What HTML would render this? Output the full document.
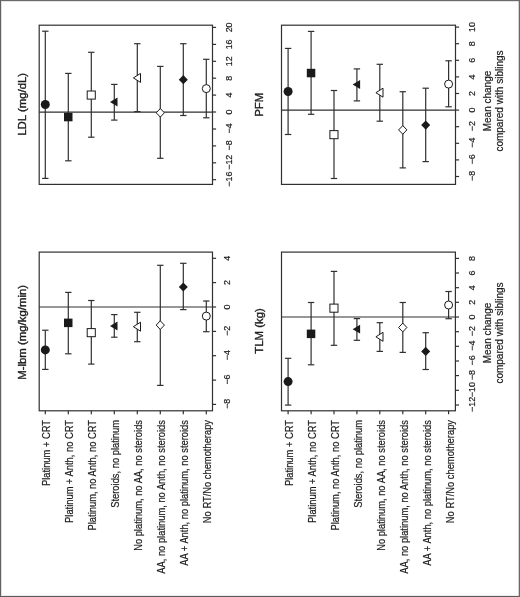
<!DOCTYPE html>
<html><head><meta charset="utf-8"><title>Figure</title>
<style>
html,body{margin:0;padding:0;background:#fff;}
body{width:520px;height:597px;overflow:hidden;position:relative;}
svg{display:block;position:absolute;left:0;top:0;}
text{font-family:"Liberation Sans", Arial, Helvetica, sans-serif;fill:#1a1a1a;stroke:#1a1a1a;stroke-width:0.2px;}
</style></head><body>
<svg width="520" height="597" viewBox="0 0 520 597">
<rect x="0" y="0" width="520" height="597" fill="#fff"/>
<rect x="39.2" y="25.2" width="173.3" height="159.2" fill="none" stroke="#303030" stroke-width="1.2"/>
<line x1="39.2" y1="112.05" x2="212.5" y2="112.05" stroke="#303030" stroke-width="1.2"/>
<line x1="212.5" y1="27.4" x2="216.1" y2="27.4" stroke="#303030" stroke-width="1.2"/>
<text x="231.7" y="27.4" transform="rotate(-90 231.7 27.4)" text-anchor="middle" font-size="8.9">20</text>
<line x1="212.5" y1="44.4" x2="216.1" y2="44.4" stroke="#303030" stroke-width="1.2"/>
<text x="231.7" y="44.4" transform="rotate(-90 231.7 44.4)" text-anchor="middle" font-size="8.9">16</text>
<line x1="212.5" y1="61.3" x2="216.1" y2="61.3" stroke="#303030" stroke-width="1.2"/>
<text x="231.7" y="61.3" transform="rotate(-90 231.7 61.3)" text-anchor="middle" font-size="8.9">12</text>
<line x1="212.5" y1="78.2" x2="216.1" y2="78.2" stroke="#303030" stroke-width="1.2"/>
<text x="231.7" y="78.2" transform="rotate(-90 231.7 78.2)" text-anchor="middle" font-size="8.9">8</text>
<line x1="212.5" y1="95.1" x2="216.1" y2="95.1" stroke="#303030" stroke-width="1.2"/>
<text x="231.7" y="95.1" transform="rotate(-90 231.7 95.1)" text-anchor="middle" font-size="8.9">4</text>
<line x1="212.5" y1="112.0" x2="216.1" y2="112.0" stroke="#303030" stroke-width="1.2"/>
<text x="231.7" y="112.0" transform="rotate(-90 231.7 112.0)" text-anchor="middle" font-size="8.9">0</text>
<line x1="212.5" y1="129.0" x2="216.1" y2="129.0" stroke="#303030" stroke-width="1.2"/>
<text x="231.7" y="128.4" transform="rotate(-90 231.7 128.4)" text-anchor="middle" font-size="8.9">−4</text>
<line x1="212.5" y1="145.9" x2="216.1" y2="145.9" stroke="#303030" stroke-width="1.2"/>
<text x="231.7" y="145.3" transform="rotate(-90 231.7 145.3)" text-anchor="middle" font-size="8.9">−8</text>
<line x1="212.5" y1="162.8" x2="216.1" y2="162.8" stroke="#303030" stroke-width="1.2"/>
<text x="231.7" y="162.2" transform="rotate(-90 231.7 162.2)" text-anchor="middle" font-size="8.9">−12</text>
<line x1="212.5" y1="179.7" x2="216.1" y2="179.7" stroke="#303030" stroke-width="1.2"/>
<text x="231.7" y="179.1" transform="rotate(-90 231.7 179.1)" text-anchor="middle" font-size="8.9">−16</text>
<line x1="45.3" y1="31.2" x2="45.3" y2="178.4" stroke="#303030" stroke-width="1.2"/>
<line x1="42.1" y1="31.2" x2="48.5" y2="31.2" stroke="#303030" stroke-width="1.2"/>
<line x1="42.1" y1="178.4" x2="48.5" y2="178.4" stroke="#303030" stroke-width="1.2"/>
<circle cx="45.3" cy="104.5" r="4.5" fill="#1a1a1a"/>
<line x1="68.3" y1="73.4" x2="68.3" y2="160.8" stroke="#303030" stroke-width="1.2"/>
<line x1="65.1" y1="73.4" x2="71.5" y2="73.4" stroke="#303030" stroke-width="1.2"/>
<line x1="65.1" y1="160.8" x2="71.5" y2="160.8" stroke="#303030" stroke-width="1.2"/>
<rect x="64.0" y="112.8" width="8.5" height="8.5" fill="#1a1a1a"/>
<line x1="91.3" y1="52.3" x2="91.3" y2="137.2" stroke="#303030" stroke-width="1.2"/>
<line x1="88.1" y1="52.3" x2="94.5" y2="52.3" stroke="#303030" stroke-width="1.2"/>
<line x1="88.1" y1="137.2" x2="94.5" y2="137.2" stroke="#303030" stroke-width="1.2"/>
<rect x="87.2" y="91.0" width="8.1" height="8.1" fill="#fff" stroke="#1a1a1a" stroke-width="1"/>
<line x1="114.3" y1="84.4" x2="114.3" y2="120.1" stroke="#303030" stroke-width="1.2"/>
<line x1="111.1" y1="84.4" x2="117.5" y2="84.4" stroke="#303030" stroke-width="1.2"/>
<line x1="111.1" y1="120.1" x2="117.5" y2="120.1" stroke="#303030" stroke-width="1.2"/>
<polygon points="110.0,102.0 117.5,97.6 117.5,106.4" fill="#1a1a1a"/>
<line x1="137.3" y1="43.7" x2="137.3" y2="111.6" stroke="#303030" stroke-width="1.2"/>
<line x1="134.1" y1="43.7" x2="140.5" y2="43.7" stroke="#303030" stroke-width="1.2"/>
<line x1="134.1" y1="111.6" x2="140.5" y2="111.6" stroke="#303030" stroke-width="1.2"/>
<polygon points="133.4,77.9 140.5,73.4 140.5,82.4" fill="#fff" stroke="#1a1a1a" stroke-width="1"/>
<line x1="160.3" y1="66.4" x2="160.3" y2="158.3" stroke="#303030" stroke-width="1.2"/>
<line x1="157.1" y1="66.4" x2="163.5" y2="66.4" stroke="#303030" stroke-width="1.2"/>
<line x1="157.1" y1="158.3" x2="163.5" y2="158.3" stroke="#303030" stroke-width="1.2"/>
<polygon points="156.2,112.8 160.3,108.5 164.4,112.8 160.3,117.1" fill="#fff" stroke="#1a1a1a" stroke-width="1"/>
<line x1="183.3" y1="43.7" x2="183.3" y2="115.5" stroke="#303030" stroke-width="1.2"/>
<line x1="180.1" y1="43.7" x2="186.5" y2="43.7" stroke="#303030" stroke-width="1.2"/>
<line x1="180.1" y1="115.5" x2="186.5" y2="115.5" stroke="#303030" stroke-width="1.2"/>
<polygon points="178.8,79.7 183.3,75.1 187.8,79.7 183.3,84.3" fill="#1a1a1a"/>
<line x1="206.3" y1="59.3" x2="206.3" y2="117.8" stroke="#303030" stroke-width="1.2"/>
<line x1="203.1" y1="59.3" x2="209.5" y2="59.3" stroke="#303030" stroke-width="1.2"/>
<line x1="203.1" y1="117.8" x2="209.5" y2="117.8" stroke="#303030" stroke-width="1.2"/>
<circle cx="206.3" cy="88.6" r="4.0" fill="#fff" stroke="#1a1a1a" stroke-width="1"/>
<text x="25.6" y="104.3" transform="rotate(-90 25.6 104.3)" text-anchor="middle" font-size="11.4" style="stroke-width:0.35px">LDL (mg/dL)</text>
<rect x="281.5" y="25.2" width="174.0" height="159.2" fill="none" stroke="#303030" stroke-width="1.2"/>
<line x1="281.5" y1="110.1" x2="455.5" y2="110.1" stroke="#303030" stroke-width="1.2"/>
<line x1="455.5" y1="27.1" x2="459.1" y2="27.1" stroke="#303030" stroke-width="1.2"/>
<text x="474.9" y="27.1" transform="rotate(-90 474.9 27.1)" text-anchor="middle" font-size="8.9">10</text>
<line x1="455.5" y1="43.7" x2="459.1" y2="43.7" stroke="#303030" stroke-width="1.2"/>
<text x="474.9" y="43.7" transform="rotate(-90 474.9 43.7)" text-anchor="middle" font-size="8.9">8</text>
<line x1="455.5" y1="60.3" x2="459.1" y2="60.3" stroke="#303030" stroke-width="1.2"/>
<text x="474.9" y="60.3" transform="rotate(-90 474.9 60.3)" text-anchor="middle" font-size="8.9">6</text>
<line x1="455.5" y1="76.9" x2="459.1" y2="76.9" stroke="#303030" stroke-width="1.2"/>
<text x="474.9" y="76.9" transform="rotate(-90 474.9 76.9)" text-anchor="middle" font-size="8.9">4</text>
<line x1="455.5" y1="93.5" x2="459.1" y2="93.5" stroke="#303030" stroke-width="1.2"/>
<text x="474.9" y="93.5" transform="rotate(-90 474.9 93.5)" text-anchor="middle" font-size="8.9">2</text>
<line x1="455.5" y1="110.1" x2="459.1" y2="110.1" stroke="#303030" stroke-width="1.2"/>
<text x="474.9" y="110.1" transform="rotate(-90 474.9 110.1)" text-anchor="middle" font-size="8.9">0</text>
<line x1="455.5" y1="126.7" x2="459.1" y2="126.7" stroke="#303030" stroke-width="1.2"/>
<text x="474.9" y="126.1" transform="rotate(-90 474.9 126.1)" text-anchor="middle" font-size="8.9">−2</text>
<line x1="455.5" y1="143.3" x2="459.1" y2="143.3" stroke="#303030" stroke-width="1.2"/>
<text x="474.9" y="142.7" transform="rotate(-90 474.9 142.7)" text-anchor="middle" font-size="8.9">−4</text>
<line x1="455.5" y1="159.9" x2="459.1" y2="159.9" stroke="#303030" stroke-width="1.2"/>
<text x="474.9" y="159.3" transform="rotate(-90 474.9 159.3)" text-anchor="middle" font-size="8.9">−6</text>
<line x1="455.5" y1="176.5" x2="459.1" y2="176.5" stroke="#303030" stroke-width="1.2"/>
<text x="474.9" y="175.9" transform="rotate(-90 474.9 175.9)" text-anchor="middle" font-size="8.9">−8</text>
<line x1="288.1" y1="48.4" x2="288.1" y2="134.5" stroke="#303030" stroke-width="1.2"/>
<line x1="284.9" y1="48.4" x2="291.3" y2="48.4" stroke="#303030" stroke-width="1.2"/>
<line x1="284.9" y1="134.5" x2="291.3" y2="134.5" stroke="#303030" stroke-width="1.2"/>
<circle cx="288.1" cy="91.5" r="4.5" fill="#1a1a1a"/>
<line x1="311.1" y1="31.4" x2="311.1" y2="114.3" stroke="#303030" stroke-width="1.2"/>
<line x1="307.9" y1="31.4" x2="314.3" y2="31.4" stroke="#303030" stroke-width="1.2"/>
<line x1="307.9" y1="114.3" x2="314.3" y2="114.3" stroke="#303030" stroke-width="1.2"/>
<rect x="306.8" y="68.8" width="8.5" height="8.5" fill="#1a1a1a"/>
<line x1="334.0" y1="90.5" x2="334.0" y2="178.5" stroke="#303030" stroke-width="1.2"/>
<line x1="330.8" y1="90.5" x2="337.2" y2="90.5" stroke="#303030" stroke-width="1.2"/>
<line x1="330.8" y1="178.5" x2="337.2" y2="178.5" stroke="#303030" stroke-width="1.2"/>
<rect x="329.9" y="130.6" width="8.1" height="8.1" fill="#fff" stroke="#1a1a1a" stroke-width="1"/>
<line x1="356.9" y1="68.9" x2="356.9" y2="100.9" stroke="#303030" stroke-width="1.2"/>
<line x1="353.7" y1="68.9" x2="360.1" y2="68.9" stroke="#303030" stroke-width="1.2"/>
<line x1="353.7" y1="100.9" x2="360.1" y2="100.9" stroke="#303030" stroke-width="1.2"/>
<polygon points="352.6,84.5 360.1,80.1 360.1,88.9" fill="#1a1a1a"/>
<line x1="379.8" y1="64.3" x2="379.8" y2="121.2" stroke="#303030" stroke-width="1.2"/>
<line x1="376.6" y1="64.3" x2="383.0" y2="64.3" stroke="#303030" stroke-width="1.2"/>
<line x1="376.6" y1="121.2" x2="383.0" y2="121.2" stroke="#303030" stroke-width="1.2"/>
<polygon points="375.9,92.7 383.0,88.2 383.0,97.2" fill="#fff" stroke="#1a1a1a" stroke-width="1"/>
<line x1="402.8" y1="91.7" x2="402.8" y2="167.9" stroke="#303030" stroke-width="1.2"/>
<line x1="399.6" y1="91.7" x2="405.9" y2="91.7" stroke="#303030" stroke-width="1.2"/>
<line x1="399.6" y1="167.9" x2="405.9" y2="167.9" stroke="#303030" stroke-width="1.2"/>
<polygon points="398.6,129.9 402.8,125.6 406.9,129.9 402.8,134.2" fill="#fff" stroke="#1a1a1a" stroke-width="1"/>
<line x1="425.7" y1="88.2" x2="425.7" y2="161.6" stroke="#303030" stroke-width="1.2"/>
<line x1="422.5" y1="88.2" x2="428.9" y2="88.2" stroke="#303030" stroke-width="1.2"/>
<line x1="422.5" y1="161.6" x2="428.9" y2="161.6" stroke="#303030" stroke-width="1.2"/>
<polygon points="421.2,125.1 425.7,120.5 430.2,125.1 425.7,129.7" fill="#1a1a1a"/>
<line x1="448.6" y1="60.8" x2="448.6" y2="106.8" stroke="#303030" stroke-width="1.2"/>
<line x1="445.4" y1="60.8" x2="451.8" y2="60.8" stroke="#303030" stroke-width="1.2"/>
<line x1="445.4" y1="106.8" x2="451.8" y2="106.8" stroke="#303030" stroke-width="1.2"/>
<circle cx="448.6" cy="84.1" r="4.0" fill="#fff" stroke="#1a1a1a" stroke-width="1"/>
<text x="262.8" y="104.7" transform="rotate(-90 262.8 104.7)" text-anchor="middle" font-size="11.4" style="stroke-width:0.35px">PFM</text>
<rect x="39.2" y="252.1" width="173.3" height="158.7" fill="none" stroke="#303030" stroke-width="1.2"/>
<line x1="39.2" y1="307.0" x2="212.5" y2="307.0" stroke="#303030" stroke-width="1.2"/>
<line x1="212.5" y1="258.3" x2="216.1" y2="258.3" stroke="#303030" stroke-width="1.2"/>
<text x="229.6" y="258.3" transform="rotate(-90 229.6 258.3)" text-anchor="middle" font-size="8.9">4</text>
<line x1="212.5" y1="282.6" x2="216.1" y2="282.6" stroke="#303030" stroke-width="1.2"/>
<text x="229.6" y="282.6" transform="rotate(-90 229.6 282.6)" text-anchor="middle" font-size="8.9">2</text>
<line x1="212.5" y1="307.0" x2="216.1" y2="307.0" stroke="#303030" stroke-width="1.2"/>
<text x="229.6" y="307.0" transform="rotate(-90 229.6 307.0)" text-anchor="middle" font-size="8.9">0</text>
<line x1="212.5" y1="331.4" x2="216.1" y2="331.4" stroke="#303030" stroke-width="1.2"/>
<text x="229.6" y="330.8" transform="rotate(-90 229.6 330.8)" text-anchor="middle" font-size="8.9">−2</text>
<line x1="212.5" y1="355.7" x2="216.1" y2="355.7" stroke="#303030" stroke-width="1.2"/>
<text x="229.6" y="355.1" transform="rotate(-90 229.6 355.1)" text-anchor="middle" font-size="8.9">−4</text>
<line x1="212.5" y1="380.1" x2="216.1" y2="380.1" stroke="#303030" stroke-width="1.2"/>
<text x="229.6" y="379.5" transform="rotate(-90 229.6 379.5)" text-anchor="middle" font-size="8.9">−6</text>
<line x1="212.5" y1="404.4" x2="216.1" y2="404.4" stroke="#303030" stroke-width="1.2"/>
<text x="229.6" y="403.8" transform="rotate(-90 229.6 403.8)" text-anchor="middle" font-size="8.9">−8</text>
<line x1="45.3" y1="330.2" x2="45.3" y2="369.4" stroke="#303030" stroke-width="1.2"/>
<line x1="42.1" y1="330.2" x2="48.5" y2="330.2" stroke="#303030" stroke-width="1.2"/>
<line x1="42.1" y1="369.4" x2="48.5" y2="369.4" stroke="#303030" stroke-width="1.2"/>
<circle cx="45.3" cy="349.9" r="4.5" fill="#1a1a1a"/>
<line x1="68.3" y1="292.4" x2="68.3" y2="353.8" stroke="#303030" stroke-width="1.2"/>
<line x1="65.1" y1="292.4" x2="71.5" y2="292.4" stroke="#303030" stroke-width="1.2"/>
<line x1="65.1" y1="353.8" x2="71.5" y2="353.8" stroke="#303030" stroke-width="1.2"/>
<rect x="64.0" y="318.6" width="8.5" height="8.5" fill="#1a1a1a"/>
<line x1="91.3" y1="300.5" x2="91.3" y2="364.1" stroke="#303030" stroke-width="1.2"/>
<line x1="88.1" y1="300.5" x2="94.5" y2="300.5" stroke="#303030" stroke-width="1.2"/>
<line x1="88.1" y1="364.1" x2="94.5" y2="364.1" stroke="#303030" stroke-width="1.2"/>
<rect x="87.2" y="328.6" width="8.1" height="8.1" fill="#fff" stroke="#1a1a1a" stroke-width="1"/>
<line x1="114.3" y1="314.6" x2="114.3" y2="337.2" stroke="#303030" stroke-width="1.2"/>
<line x1="111.1" y1="314.6" x2="117.5" y2="314.6" stroke="#303030" stroke-width="1.2"/>
<line x1="111.1" y1="337.2" x2="117.5" y2="337.2" stroke="#303030" stroke-width="1.2"/>
<polygon points="110.0,326.0 117.5,321.6 117.5,330.4" fill="#1a1a1a"/>
<line x1="137.3" y1="312.3" x2="137.3" y2="341.7" stroke="#303030" stroke-width="1.2"/>
<line x1="134.1" y1="312.3" x2="140.5" y2="312.3" stroke="#303030" stroke-width="1.2"/>
<line x1="134.1" y1="341.7" x2="140.5" y2="341.7" stroke="#303030" stroke-width="1.2"/>
<polygon points="133.4,326.7 140.5,322.2 140.5,331.2" fill="#fff" stroke="#1a1a1a" stroke-width="1"/>
<line x1="160.3" y1="265.3" x2="160.3" y2="385.4" stroke="#303030" stroke-width="1.2"/>
<line x1="157.1" y1="265.3" x2="163.5" y2="265.3" stroke="#303030" stroke-width="1.2"/>
<line x1="157.1" y1="385.4" x2="163.5" y2="385.4" stroke="#303030" stroke-width="1.2"/>
<polygon points="156.2,325.1 160.3,320.8 164.4,325.1 160.3,329.5" fill="#fff" stroke="#1a1a1a" stroke-width="1"/>
<line x1="183.3" y1="263.3" x2="183.3" y2="309.6" stroke="#303030" stroke-width="1.2"/>
<line x1="180.1" y1="263.3" x2="186.5" y2="263.3" stroke="#303030" stroke-width="1.2"/>
<line x1="180.1" y1="309.6" x2="186.5" y2="309.6" stroke="#303030" stroke-width="1.2"/>
<polygon points="178.8,287.0 183.3,282.4 187.8,287.0 183.3,291.6" fill="#1a1a1a"/>
<line x1="206.3" y1="301" x2="206.3" y2="331.7" stroke="#303030" stroke-width="1.2"/>
<line x1="203.1" y1="301" x2="209.5" y2="301" stroke="#303030" stroke-width="1.2"/>
<line x1="203.1" y1="331.7" x2="209.5" y2="331.7" stroke="#303030" stroke-width="1.2"/>
<circle cx="206.3" cy="316.1" r="4.0" fill="#fff" stroke="#1a1a1a" stroke-width="1"/>
<text x="25.6" y="332.4" transform="rotate(-90 25.6 332.4)" text-anchor="middle" font-size="11.4" style="stroke-width:0.35px">M-lbm (mg/kg/min)</text>
<rect x="281.5" y="252.1" width="173.9" height="158.7" fill="none" stroke="#303030" stroke-width="1.2"/>
<line x1="281.5" y1="317.0" x2="455.4" y2="317.0" stroke="#303030" stroke-width="1.2"/>
<line x1="455.4" y1="258.4" x2="459.0" y2="258.4" stroke="#303030" stroke-width="1.2"/>
<text x="474.9" y="258.4" transform="rotate(-90 474.9 258.4)" text-anchor="middle" font-size="8.9">8</text>
<line x1="455.4" y1="273.0" x2="459.0" y2="273.0" stroke="#303030" stroke-width="1.2"/>
<text x="474.9" y="273.0" transform="rotate(-90 474.9 273.0)" text-anchor="middle" font-size="8.9">6</text>
<line x1="455.4" y1="287.7" x2="459.0" y2="287.7" stroke="#303030" stroke-width="1.2"/>
<text x="474.9" y="287.7" transform="rotate(-90 474.9 287.7)" text-anchor="middle" font-size="8.9">4</text>
<line x1="455.4" y1="302.3" x2="459.0" y2="302.3" stroke="#303030" stroke-width="1.2"/>
<text x="474.9" y="302.3" transform="rotate(-90 474.9 302.3)" text-anchor="middle" font-size="8.9">2</text>
<line x1="455.4" y1="317.0" x2="459.0" y2="317.0" stroke="#303030" stroke-width="1.2"/>
<text x="474.9" y="317.0" transform="rotate(-90 474.9 317.0)" text-anchor="middle" font-size="8.9">0</text>
<line x1="455.4" y1="331.7" x2="459.0" y2="331.7" stroke="#303030" stroke-width="1.2"/>
<text x="474.9" y="331.1" transform="rotate(-90 474.9 331.1)" text-anchor="middle" font-size="8.9">−2</text>
<line x1="455.4" y1="346.3" x2="459.0" y2="346.3" stroke="#303030" stroke-width="1.2"/>
<text x="474.9" y="345.7" transform="rotate(-90 474.9 345.7)" text-anchor="middle" font-size="8.9">−4</text>
<line x1="455.4" y1="361.0" x2="459.0" y2="361.0" stroke="#303030" stroke-width="1.2"/>
<text x="474.9" y="360.4" transform="rotate(-90 474.9 360.4)" text-anchor="middle" font-size="8.9">−6</text>
<line x1="455.4" y1="375.6" x2="459.0" y2="375.6" stroke="#303030" stroke-width="1.2"/>
<text x="474.9" y="375.0" transform="rotate(-90 474.9 375.0)" text-anchor="middle" font-size="8.9">−8</text>
<line x1="455.4" y1="390.3" x2="459.0" y2="390.3" stroke="#303030" stroke-width="1.2"/>
<text x="474.9" y="389.7" transform="rotate(-90 474.9 389.7)" text-anchor="middle" font-size="8.9">−10</text>
<line x1="455.4" y1="405.0" x2="459.0" y2="405.0" stroke="#303030" stroke-width="1.2"/>
<text x="474.9" y="404.4" transform="rotate(-90 474.9 404.4)" text-anchor="middle" font-size="8.9">−12</text>
<line x1="288.1" y1="358.3" x2="288.1" y2="405.1" stroke="#303030" stroke-width="1.2"/>
<line x1="284.9" y1="358.3" x2="291.3" y2="358.3" stroke="#303030" stroke-width="1.2"/>
<line x1="284.9" y1="405.1" x2="291.3" y2="405.1" stroke="#303030" stroke-width="1.2"/>
<circle cx="288.1" cy="381.6" r="4.5" fill="#1a1a1a"/>
<line x1="311.1" y1="302.5" x2="311.1" y2="364.8" stroke="#303030" stroke-width="1.2"/>
<line x1="307.9" y1="302.5" x2="314.3" y2="302.5" stroke="#303030" stroke-width="1.2"/>
<line x1="307.9" y1="364.8" x2="314.3" y2="364.8" stroke="#303030" stroke-width="1.2"/>
<rect x="306.8" y="329.6" width="8.5" height="8.5" fill="#1a1a1a"/>
<line x1="334.0" y1="271.4" x2="334.0" y2="345.3" stroke="#303030" stroke-width="1.2"/>
<line x1="330.8" y1="271.4" x2="337.2" y2="271.4" stroke="#303030" stroke-width="1.2"/>
<line x1="330.8" y1="345.3" x2="337.2" y2="345.3" stroke="#303030" stroke-width="1.2"/>
<rect x="329.9" y="304.1" width="8.1" height="8.1" fill="#fff" stroke="#1a1a1a" stroke-width="1"/>
<line x1="356.9" y1="318.6" x2="356.9" y2="340.3" stroke="#303030" stroke-width="1.2"/>
<line x1="353.7" y1="318.6" x2="360.1" y2="318.6" stroke="#303030" stroke-width="1.2"/>
<line x1="353.7" y1="340.3" x2="360.1" y2="340.3" stroke="#303030" stroke-width="1.2"/>
<polygon points="352.6,329.2 360.1,324.8 360.1,333.6" fill="#1a1a1a"/>
<line x1="379.8" y1="322.7" x2="379.8" y2="351.4" stroke="#303030" stroke-width="1.2"/>
<line x1="376.6" y1="322.7" x2="383.0" y2="322.7" stroke="#303030" stroke-width="1.2"/>
<line x1="376.6" y1="351.4" x2="383.0" y2="351.4" stroke="#303030" stroke-width="1.2"/>
<polygon points="375.9,336.8 383.0,332.3 383.0,341.3" fill="#fff" stroke="#1a1a1a" stroke-width="1"/>
<line x1="402.8" y1="302.5" x2="402.8" y2="352.4" stroke="#303030" stroke-width="1.2"/>
<line x1="399.6" y1="302.5" x2="405.9" y2="302.5" stroke="#303030" stroke-width="1.2"/>
<line x1="399.6" y1="352.4" x2="405.9" y2="352.4" stroke="#303030" stroke-width="1.2"/>
<polygon points="398.6,327.5 402.8,323.1 406.9,327.5 402.8,331.9" fill="#fff" stroke="#1a1a1a" stroke-width="1"/>
<line x1="425.7" y1="332.7" x2="425.7" y2="369.5" stroke="#303030" stroke-width="1.2"/>
<line x1="422.5" y1="332.7" x2="428.9" y2="332.7" stroke="#303030" stroke-width="1.2"/>
<line x1="422.5" y1="369.5" x2="428.9" y2="369.5" stroke="#303030" stroke-width="1.2"/>
<polygon points="421.2,351.4 425.7,346.8 430.2,351.4 425.7,356.0" fill="#1a1a1a"/>
<line x1="448.6" y1="291.5" x2="448.6" y2="318.7" stroke="#303030" stroke-width="1.2"/>
<line x1="445.4" y1="291.5" x2="451.8" y2="291.5" stroke="#303030" stroke-width="1.2"/>
<line x1="445.4" y1="318.7" x2="451.8" y2="318.7" stroke="#303030" stroke-width="1.2"/>
<circle cx="448.6" cy="305.0" r="4.0" fill="#fff" stroke="#1a1a1a" stroke-width="1"/>
<text x="262.8" y="331" transform="rotate(-90 262.8 331)" text-anchor="middle" font-size="11.4" style="stroke-width:0.35px">TLM (kg)</text>
<line x1="45.3" y1="410.8" x2="45.3" y2="414.2" stroke="#303030" stroke-width="1.2"/>
<text x="50.4" y="420.0" transform="rotate(-90 50.4 420.0) translate(50.4 420.0) scale(0.935 1) translate(-50.4 -420.0)" text-anchor="end" font-size="10">Platinum + CRT</text>
<line x1="68.3" y1="410.8" x2="68.3" y2="414.2" stroke="#303030" stroke-width="1.2"/>
<text x="73.4" y="420.0" transform="rotate(-90 73.4 420.0) translate(73.4 420.0) scale(0.935 1) translate(-73.4 -420.0)" text-anchor="end" font-size="10">Platinum + Anth, no CRT</text>
<line x1="91.3" y1="410.8" x2="91.3" y2="414.2" stroke="#303030" stroke-width="1.2"/>
<text x="96.4" y="420.0" transform="rotate(-90 96.4 420.0) translate(96.4 420.0) scale(0.935 1) translate(-96.4 -420.0)" text-anchor="end" font-size="10">Platinum, no Anth, no CRT</text>
<line x1="114.3" y1="410.8" x2="114.3" y2="414.2" stroke="#303030" stroke-width="1.2"/>
<text x="119.4" y="420.0" transform="rotate(-90 119.4 420.0) translate(119.4 420.0) scale(0.935 1) translate(-119.4 -420.0)" text-anchor="end" font-size="10">Steroids, no platinum</text>
<line x1="137.3" y1="410.8" x2="137.3" y2="414.2" stroke="#303030" stroke-width="1.2"/>
<text x="142.4" y="420.0" transform="rotate(-90 142.4 420.0) translate(142.4 420.0) scale(0.935 1) translate(-142.4 -420.0)" text-anchor="end" font-size="10">No platinum, no AA, no steroids</text>
<line x1="160.3" y1="410.8" x2="160.3" y2="414.2" stroke="#303030" stroke-width="1.2"/>
<text x="165.4" y="420.0" transform="rotate(-90 165.4 420.0) translate(165.4 420.0) scale(0.935 1) translate(-165.4 -420.0)" text-anchor="end" font-size="10">AA, no platinum, no Anth, no steroids</text>
<line x1="183.3" y1="410.8" x2="183.3" y2="414.2" stroke="#303030" stroke-width="1.2"/>
<text x="188.4" y="420.0" transform="rotate(-90 188.4 420.0) translate(188.4 420.0) scale(0.935 1) translate(-188.4 -420.0)" text-anchor="end" font-size="10">AA + Anth, no platinum, no steroids</text>
<line x1="206.3" y1="410.8" x2="206.3" y2="414.2" stroke="#303030" stroke-width="1.2"/>
<text x="211.4" y="420.0" transform="rotate(-90 211.4 420.0) translate(211.4 420.0) scale(0.935 1) translate(-211.4 -420.0)" text-anchor="end" font-size="10">No RT/No chemotherapy</text>
<line x1="288.1" y1="410.8" x2="288.1" y2="414.2" stroke="#303030" stroke-width="1.2"/>
<text x="293.5" y="420.0" transform="rotate(-90 293.5 420.0) translate(293.5 420.0) scale(0.935 1) translate(-293.5 -420.0)" text-anchor="end" font-size="10">Platinum + CRT</text>
<line x1="311.1" y1="410.8" x2="311.1" y2="414.2" stroke="#303030" stroke-width="1.2"/>
<text x="316.5" y="420.0" transform="rotate(-90 316.5 420.0) translate(316.5 420.0) scale(0.935 1) translate(-316.5 -420.0)" text-anchor="end" font-size="10">Platinum + Anth, no CRT</text>
<line x1="334.0" y1="410.8" x2="334.0" y2="414.2" stroke="#303030" stroke-width="1.2"/>
<text x="339.4" y="420.0" transform="rotate(-90 339.4 420.0) translate(339.4 420.0) scale(0.935 1) translate(-339.4 -420.0)" text-anchor="end" font-size="10">Platinum, no Anth, no CRT</text>
<line x1="356.9" y1="410.8" x2="356.9" y2="414.2" stroke="#303030" stroke-width="1.2"/>
<text x="362.3" y="420.0" transform="rotate(-90 362.3 420.0) translate(362.3 420.0) scale(0.935 1) translate(-362.3 -420.0)" text-anchor="end" font-size="10">Steroids, no platinum</text>
<line x1="379.8" y1="410.8" x2="379.8" y2="414.2" stroke="#303030" stroke-width="1.2"/>
<text x="385.2" y="420.0" transform="rotate(-90 385.2 420.0) translate(385.2 420.0) scale(0.935 1) translate(-385.2 -420.0)" text-anchor="end" font-size="10">No platinum, no AA, no steroids</text>
<line x1="402.8" y1="410.8" x2="402.8" y2="414.2" stroke="#303030" stroke-width="1.2"/>
<text x="408.1" y="420.0" transform="rotate(-90 408.1 420.0) translate(408.1 420.0) scale(0.935 1) translate(-408.1 -420.0)" text-anchor="end" font-size="10">AA, no platinum, no Anth, no steroids</text>
<line x1="425.7" y1="410.8" x2="425.7" y2="414.2" stroke="#303030" stroke-width="1.2"/>
<text x="431.1" y="420.0" transform="rotate(-90 431.1 420.0) translate(431.1 420.0) scale(0.935 1) translate(-431.1 -420.0)" text-anchor="end" font-size="10">AA + Anth, no platinum, no steroids</text>
<line x1="448.6" y1="410.8" x2="448.6" y2="414.2" stroke="#303030" stroke-width="1.2"/>
<text x="454.0" y="420.0" transform="rotate(-90 454.0 420.0) translate(454.0 420.0) scale(0.935 1) translate(-454.0 -420.0)" text-anchor="end" font-size="10">No RT/No chemotherapy</text>
<text x="491.3" y="101" transform="rotate(-90 491.3 101)" text-anchor="middle" font-size="10">Mean change</text>
<text x="502.6" y="101" transform="rotate(-90 502.6 101)" text-anchor="middle" font-size="10">compared with siblings</text>
<text x="491.3" y="333" transform="rotate(-90 491.3 333)" text-anchor="middle" font-size="10">Mean change</text>
<text x="502.6" y="333" transform="rotate(-90 502.6 333)" text-anchor="middle" font-size="10">compared with siblings</text>
<rect x="0" y="1" width="520" height="1" fill="#e4e4e4"/><rect x="1" y="0" width="1" height="597" fill="#e0e0e0"/><rect x="0" y="595" width="520" height="1" fill="#ececec"/><rect x="0" y="0" width="520" height="1" fill="#6a6a6a"/><rect x="0" y="0" width="1" height="597" fill="#606060"/><rect x="0" y="596" width="520" height="1" fill="#5a5a5a"/><rect x="518.7" y="0" width="1.3" height="597" fill="#6a6a6a"/>
</svg>
</body></html>
